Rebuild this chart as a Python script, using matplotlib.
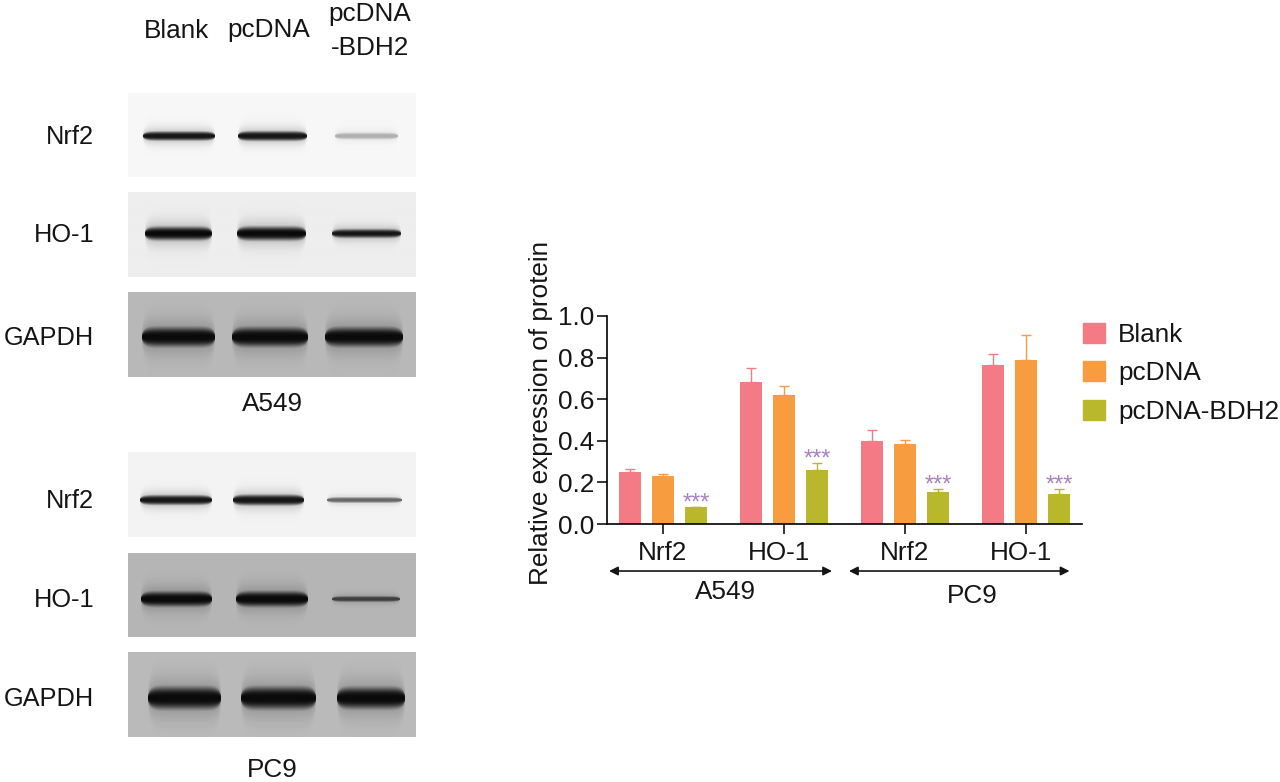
import numpy as np
import matplotlib
matplotlib.use('Agg')
import matplotlib.pyplot as plt
from matplotlib.patches import Patch
from matplotlib.transforms import ScaledTranslation

plt.rcParams['font.family'] = ['Liberation Sans', 'DejaVu Sans']

W, H = 1280, 782
FS = 18.8
FS_BLOT = 18.3
TXT = '#151515'

# bar chart data
genes = ['Nrf2', 'HO-1', 'Nrf2', 'HO-1']
groups = ['Blank', 'pcDNA', 'pcDNA-BDH2']
blank = [0.25, 0.685, 0.40, 0.765]
pcdna = [0.23, 0.62, 0.385, 0.79]
bdh2 = [0.08, 0.26, 0.155, 0.145]
blank_err = [0.015, 0.065, 0.05, 0.05]
pcdna_err = [0.01, 0.045, 0.02, 0.12]
bdh2_err = [0.002, 0.035, 0.015, 0.025]
colors = ['#F47B85', '#F79C3F', '#B9B82C']
star_color = '#A97FC0'

# blot panels
panel_top = [93, 192, 292, 452, 553, 652]
panel_bottom = [177, 277, 377, 537, 637, 737]
panel_bg = [0.965, 0.93, 0.72, 0.95, 0.71, 0.73]
panel_names = ['Nrf2', 'HO-1', 'GAPDH', 'Nrf2', 'HO-1', 'GAPDH']
band_y = [136, 234, 337, 500, 599, 698]
band_left = [[143, 238, 335], [145, 237, 332], [142, 232, 325],
             [140, 233, 327], [141, 236, 332], [148, 241, 337]]
band_right = [[215, 307, 398], [212, 306, 401], [215, 308, 403],
              [212, 304, 402], [212, 308, 400], [221, 316, 405]]
band_thick = [[4.5, 4.8, 3.2], [6.6, 6.8, 4.2], [9.5, 9.5, 9.5],
              [4.8, 5.3, 2.8], [7.3, 7.5, 2.8], [11, 11, 10.5]]
band_dark = [[0.95, 0.95, 0.3], [1, 1, 0.95], [1, 1, 1],
             [0.95, 0.95, 0.6], [1, 1, 0.7], [1, 1, 1]]


def fig_axes(fig, left, top, right, bottom):
    return fig.add_axes([left / W, 1 - bottom / H, (right - left) / W, (bottom - top) / H])


def blot(fig, i):
    top, bottom = panel_top[i], panel_bottom[i]
    ax = fig_axes(fig, 128, top, 416, bottom)
    xx, yy = np.meshgrid(np.arange(128, 416) + 0.5, np.arange(top, bottom) + 0.5)
    img = np.full(xx.shape, panel_bg[i])
    for l, r, t, d in zip(band_left[i], band_right[i], band_thick[i], band_dark[i]):
        cx, hw = (l + r) / 2, (r - l) / 2
        # band gets thinner toward the ends
        shape = np.clip(1 - ((xx - cx) / hw) ** 8, 0, 1)
        dist = np.abs(yy - band_y[i]) / (t * shape ** 0.4 + 0.01)
        a = d * np.exp(-dist ** 3) * (shape > 0)
        halo = 0.22 * d * np.exp(-(dist / 1.9) ** 2) * (shape > 0)
        a = np.maximum(a, halo)
        img = img * (1 - a) + 0.04 * a
    ax.imshow(img, cmap='gray', vmin=0, vmax=1, aspect='auto', interpolation='bilinear')
    ax.axis('off')
    fig.text(94 / W, 1 - (band_y[i] + 1) / H, panel_names[i], ha='right', va='center', fontsize=FS_BLOT, color=TXT)


fig = plt.figure(figsize=(W / 100, H / 100), dpi=100)

for i in range(6):
    blot(fig, i)

fig.text(177 / W, 1 - 31 / H, 'Blank', ha='center', va='center', fontsize=FS, color=TXT)
fig.text(269 / W, 1 - 30 / H, 'pcDNA', ha='center', va='center', fontsize=FS, color=TXT)
fig.text(370 / W, 1 - 14 / H, 'pcDNA', ha='center', va='center', fontsize=FS, color=TXT)
fig.text(370 / W, 1 - 48 / H, '-BDH2', ha='center', va='center', fontsize=FS, color=TXT)
fig.text(272 / W, 1 - 404 / H, 'A549', ha='center', va='center', fontsize=FS, color=TXT)
fig.text(272 / W, 1 - 770 / H, 'PC9', ha='center', va='center', fontsize=FS, color=TXT)

# bar chart
ax = fig_axes(fig, 607, 316, 1082, 524)
x = np.arange(4)
step = 0.273
handles = []
for k, (vals, errs) in enumerate(zip([blank, pcdna, bdh2], [blank_err, pcdna_err, bdh2_err])):
    ax.bar(x + (k - 1) * step, vals, width=0.186, color=colors[k],
           yerr=[np.zeros(4), errs], ecolor=colors[k],
           error_kw=dict(elinewidth=1, capsize=3.5, capthick=1))
    handles.append(Patch(color=colors[k], label=groups[k]))

for i in range(4):
    ax.text(x[i] + step, bdh2[i] + bdh2_err[i] + 0.015, '***', ha='center', va='center',
            fontsize=17, color=star_color)

ax.set_xlim(-0.463, 3.463)
ax.set_ylim(0, 1.0)
ax.set_yticks([0, 0.2, 0.4, 0.6, 0.8, 1.0])
ax.set_xticks(x)
ax.set_xticklabels(genes)
ax.tick_params(axis='both', labelsize=FS, width=1.2, length=7, color=TXT, labelcolor=TXT)
ax.tick_params(axis='x', pad=5)
ax.tick_params(axis='y', pad=2)
# the HO-1 labels sit a little left of their ticks
for lab in ax.get_xticklabels()[1::2]:
    lab.set_transform(lab.get_transform() + ScaledTranslation(-5 / 100, 0, fig.dpi_scale_trans))
ax.spines['top'].set_visible(False)
ax.spines['right'].set_visible(False)
ax.spines['left'].set_linewidth(1.2)
ax.spines['bottom'].set_linewidth(1.2)
ax.set_ylabel('Relative expression of protein', fontsize=FS, color=TXT)
ax.yaxis.set_label_coords((553 - 607) / 475, 0.534)

# cell line arrows under the axis
for x0, x1, name, tx, ty in [(-0.446, 1.397, 'A549', 0.512, -0.325), (1.537, 3.36, 'PC9', 2.56, -0.345)]:
    ax.annotate('', xy=(x0, -0.226), xytext=(x1, -0.226), xycoords=('data', 'axes fraction'),
                textcoords=('data', 'axes fraction'),
                arrowprops=dict(arrowstyle='<|-|>', color=TXT, lw=1.2, shrinkA=0, shrinkB=0, mutation_scale=13))
    ax.text(tx, ty, name, transform=ax.get_xaxis_transform(), ha='center', va='center',
            fontsize=FS, color=TXT)

fig.legend(handles=handles, loc='upper left', bbox_to_anchor=(1083 / W, 1 - 323 / H), frameon=False,
           fontsize=FS, handlelength=0.85, handleheight=0.8, handletextpad=0.5, labelspacing=0.55,
           borderpad=0, borderaxespad=0, labelcolor=TXT)

fig.savefig('out.png', dpi=100)
